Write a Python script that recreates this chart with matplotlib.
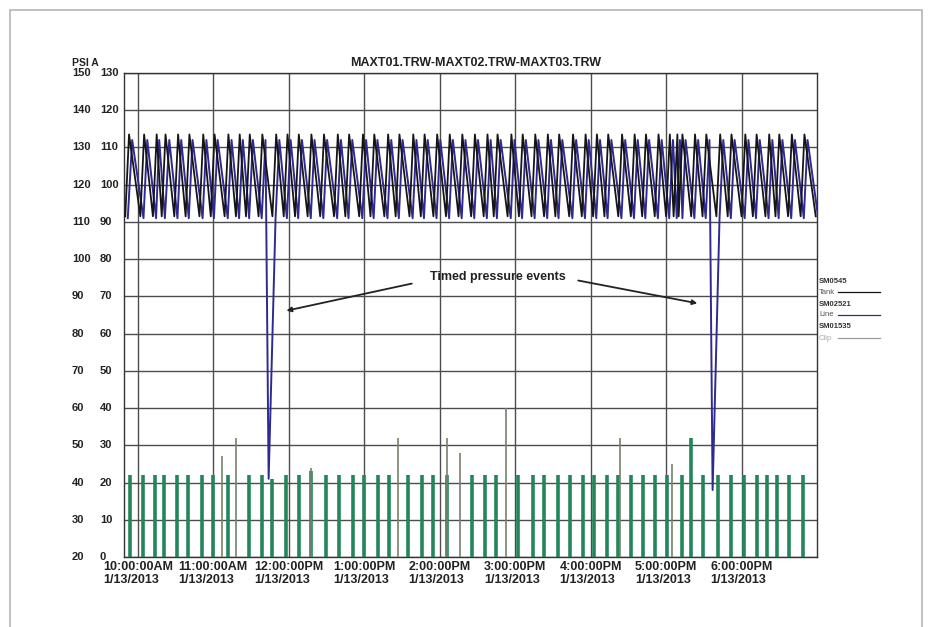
import matplotlib
matplotlib.use('Agg')
import matplotlib.pyplot as plt
import numpy as np
from matplotlib import transforms
from matplotlib.patches import Rectangle
from matplotlib.lines import Line2D

# time axis: minutes after 10:00 AM, 1/13/2013
hour_ticks = [0, 60, 120, 180, 240, 300, 360, 420, 480]
hour_labels = ['10:00:00AM\n1/13/2013', '11:00:00AM\n1/13/2013', '12:00:00PM\n1/13/2013',
               '1:00:00PM\n1/13/2013', '2:00:00PM\n1/13/2013', '3:00:00PM\n1/13/2013',
               '4:00:00PM\n1/13/2013', '5:00:00PM\n1/13/2013', '6:00:00PM\n1/13/2013']
inner_ticks = [0, 10, 20, 30, 40, 50, 60, 70, 80, 90, 100, 110, 120, 130]
outer_ticks = [20, 30, 40, 50, 60, 70, 80, 90, 100, 110, 120, 130, 140, 150]

# MAXT01 (black) - tank pressure sawtooth
black_peak_t = [-7, 5, 15, 22, 32, 41, 52, 61, 72, 81, 89, 99, 110, 119, 128, 138, 148, 159, 168,
                179, 188, 199, 208, 219, 228, 238, 248, 258, 268, 278, 286, 297, 306, 316, 326,
                335, 346, 356, 365, 374, 385, 395, 404, 414, 423, 429, 433, 443, 452, 463, 472,
                483, 492, 502, 510, 520, 530]
black_trough_t = [-10, 2, 12, 19, 29, 38, 49, 58, 69, 78, 86, 96, 107, 116, 125, 135, 145, 156,
                  165, 176, 185, 196, 205, 216, 225, 235, 245, 255, 265, 275, 283, 294, 303, 313,
                  323, 332, 343, 353, 362, 371, 382, 392, 401, 411, 420, 426, 430, 440, 449, 460,
                  469, 480, 489, 499, 507, 517, 527, 539]
black_peak_v = 113.5
black_trough_v = 91.5

# MAXT02 (blue) - line pressure sawtooth with two timed events
blue_peak_t = [-4.5, 7.5, 17, 25, 34.5, 43.5, 54.5, 63.5, 74.5, 83.5, 91.5, 101.5, 112.5, 121.5,
               130.5, 140.5, 150.5, 161.5, 170.5, 181.5, 190.5, 201.5, 210.5, 221.5, 230.5, 240.5,
               250.5, 260.5, 270.5, 280.5, 288.5, 299.5, 308.5, 318.5, 328.5, 337.5, 348.5, 358.5,
               367.5, 376.5, 387.5, 397.5, 406.5, 416.5, 425.5, 431, 435.5, 445.5, 454.5, 465.5,
               474.5, 485.5, 494.5, 504.5, 512.5, 522.5, 532.5]
blue_trough_t = [-8, 4.5, 14.5, 21.5, 31.5, 40.5, 51.5, 60.5, 71.5, 80.5, 88.5, 98.5, 109.5, 118.5,
                 127.5, 137.5, 147.5, 158.5, 167.5, 178.5, 187.5, 198.5, 207.5, 218.5, 227.5,
                 237.5, 247.5, 257.5, 267.5, 277.5, 285.5, 296.5, 305.5, 315.5, 325.5, 334.5,
                 345.5, 355.5, 364.5, 373.5, 384.5, 394.5, 403.5, 413.5, 422.5, 428.5, 433,
                 442.5, 451.5, 462.5, 471.5, 482.5, 491.5, 501.5, 509.5, 519.5, 529.5, 541]
blue_peak_v = 112
blue_trough_v = 91
blue_dip_t = [104, 457]
blue_dip_v = [21, 18]

# MAXT03 (green) - clip pulses
green_t = [-6, 4, 14, 21, 31, 40, 51, 60, 72, 88, 99, 107, 118, 128, 138, 150, 160, 171, 180, 191,
           200, 215, 226, 235, 246, 266, 276, 285, 302, 314, 323, 334, 344, 354, 363, 373, 382,
           392, 402, 411, 421, 433, 440, 449, 461, 472, 482, 492, 500, 508, 518, 529]
green_v = [22, 22, 22, 22, 22, 22, 22, 22, 22, 22, 22, 21, 22, 22, 23, 22, 22, 22, 22, 22,
           22, 22, 22, 22, 22, 22, 22, 22, 22, 22, 22, 22, 22, 22, 22, 22, 22,
           22, 22, 22, 22, 22, 32, 22, 22, 22, 22, 22, 22, 22, 22, 22]
spike_t = [67, 78, 138, 207, 246, 256, 293, 383, 425]
spike_v = [27, 32, 24, 32, 32, 28, 40, 32, 25]

plt.rcParams['font.family'] = ['Liberation Sans', 'DejaVu Sans']

W, H = 932, 627
fig = plt.figure(figsize=(W / 100, H / 100), dpi=100)
ax = fig.add_axes([124 / W, 1 - 557 / H, (817 - 124) / W, (557 - 73) / H])

# green pulses and grey spikes
ax.vlines(green_t, 0, green_v, color='#23855a', lw=2.6, zorder=3)
ax.vlines(spike_t, 0, spike_v, color='#77826a', lw=1.2, zorder=3)

# blue series
n = len(blue_trough_t) + len(blue_peak_t)
bl_t = np.empty(n)
bl_v = np.empty(n)
bl_t[0::2] = blue_trough_t
bl_t[1::2] = blue_peak_t
bl_v[0::2] = blue_trough_v
bl_v[1::2] = blue_peak_v
bl_t = np.concatenate([bl_t, blue_dip_t])
bl_v = np.concatenate([bl_v, blue_dip_v])
order = np.argsort(bl_t)
ax.plot(bl_t[order], bl_v[order], color='#2e2a92', lw=1.4, zorder=4)

# black series
n = len(black_trough_t) + len(black_peak_t)
bk_t = np.empty(n)
bk_v = np.empty(n)
bk_t[0::2] = black_trough_t
bk_t[1::2] = black_peak_t
bk_v[0::2] = black_trough_v
bk_v[1::2] = black_peak_v
ax.plot(bk_t, bk_v, color='#151515', lw=1.3, zorder=5)

ax.set_xlim(-11, 540)
ax.set_ylim(0, 130)
ax.set_yticks(inner_ticks)
ax.set_xticks(hour_ticks)
ax.set_xticklabels(hour_labels, fontsize=9, fontweight='bold', color='#222222',
                   multialignment='left', linespacing=1.1)
ax.tick_params(length=0, labelleft=False, pad=3)
ax.set_axisbelow(True)
ax.grid(True, color='#4d4d4d', lw=1)
for s in ax.spines.values():
    s.set_color('#333333')
    s.set_linewidth(1)

# two-column y labels
tr = transforms.blended_transform_factory(fig.transFigure, ax.transData)
for v_in, v_out in zip(inner_ticks, outer_ticks):
    ax.text(72 / W, v_in, str(v_out), transform=tr, ha='left', va='center',
            fontsize=8, fontweight='bold', color='#222222')
    ax.text(100 / W, v_in, str(v_in), transform=tr, ha='left', va='center',
            fontsize=8, fontweight='bold', color='#222222')
fig.text(72 / W, 1 - 63 / H, 'PSI A', ha='left', va='center', fontsize=7.5,
         fontweight='bold', color='#222222')
fig.text(476 / W, 1 - 63 / H, 'MAXT01.TRW-MAXT02.TRW-MAXT03.TRW', ha='center', va='center',
         fontsize=9, fontweight='bold', color='#222222')

# annotation
ax.text(286, 75.2, 'Timed pressure events', ha='center', va='center', fontsize=9,
        fontweight='bold', color='#222222', zorder=6)
arrow = dict(arrowstyle='-|>', color='#222222', lw=1.3, mutation_scale=7)
ax.annotate('', xy=(116, 66), xytext=(220, 73.6), arrowprops=arrow, zorder=6)
ax.annotate('', xy=(447, 68), xytext=(348, 74.4), arrowprops=arrow, zorder=6)

# legend at the right
leg = [('SM0545', 'Tank', '#151515'), ('SM02521', 'Line', '#2e2a92'), ('SM01535', 'Clip', '#9a9a9a')]
y0 = 281
for i, (code, name, col) in enumerate(leg):
    yc = y0 + i * 23
    fig.text(819 / W, 1 - yc / H, code, ha='left', va='center', fontsize=5.5,
             fontweight='bold', color='#333333')
    fig.text(819 / W, 1 - (yc + 11) / H, name, ha='left', va='center', fontsize=5.5,
             color='#555555' if i < 2 else '#aaaaaa')
    fig.add_artist(Line2D([838 / W, 880 / W], [1 - (yc + 11) / H] * 2, color=col, lw=0.9))

# outer frame of the picture
fig.add_artist(Rectangle((10 / W, -0.1), (922 - 10) / W, 1.1 - 10 / H, transform=fig.transFigure,
                         fill=False, edgecolor='#b5b5b5', lw=1.2))

fig.savefig('out.png', dpi=100)
